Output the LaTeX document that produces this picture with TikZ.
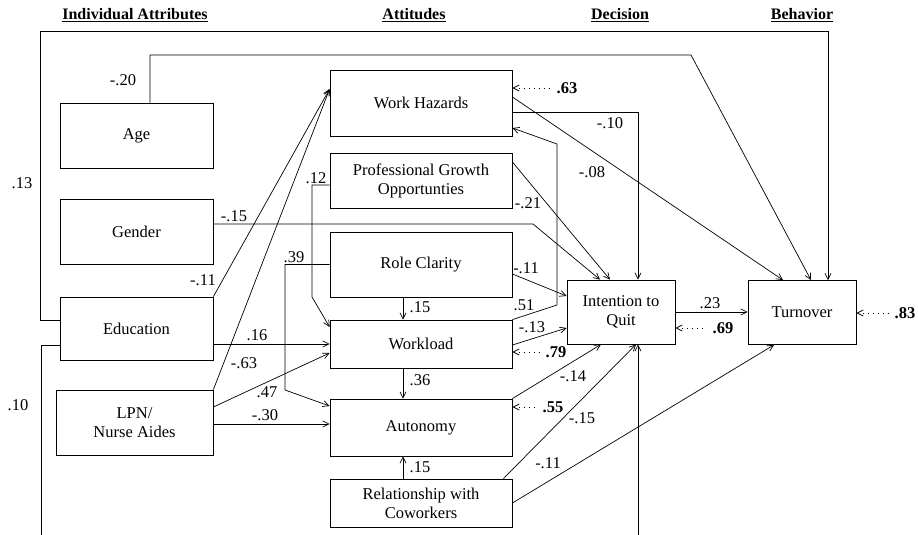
\documentclass[tikz,border=0pt]{standalone}
\usepackage{fontspec}
\setmainfont{Liberation Serif}
\usetikzlibrary{arrows.meta,positioning}
\begin{document}
\begin{tikzpicture}[x=1pt, y=-1pt,
        box/.style={draw, line width=0.8pt, inner sep=0pt, align=center, font=\fontsize{16.5}{19}\selectfont},
        lbox/.style={box, minimum width=153pt},
        mbox/.style={box, minimum width=182pt},
        rbox/.style={box, minimum width=108pt, minimum height=64pt},
        head/.style={font=\fontsize{16}{19}\selectfont\bfseries},
        coef/.style={font=\fontsize{16.5}{19}\selectfont, inner sep=1pt},
        resid/.style={font=\fontsize{16.5}{19}\selectfont\bfseries, inner sep=1pt},
        arrow/.style={-{Straight Barb[length=6pt,width=6pt]}, line width=0.7pt},
        err/.style={{Straight Barb[length=6pt,width=6pt]}-, dash pattern=on 1.2pt off 3.8pt, line width=0.8pt, shorten >=5pt}
    ]
    \useasboundingbox (0,0) rectangle (918,535);
    \clip (0,0) rectangle (918,535);
    % column headings
    \node[head] (hind) at (135,15) {\underline{Individual Attributes}};
    \node[head] (hatt) at (414,15) {\underline{Attitudes}};
    \node[head] (hdec) at (620,15) {\underline{Decision}};
    \node[head] (hbeh) at (802,15) {\underline{Behavior}};
    % boxes
    \node[lbox, minimum height=65pt] (age) at (136.5,135.5) {Age};
    \node[lbox, minimum height=65pt] (gender) at (136.5,231.5) {Gender};
    \node[lbox, minimum height=63pt] (edu) at (136.5,328.5) {Education};
    \node[lbox, minimum width=157pt, minimum height=65pt] (lpn) at (134.5,422.5) {LPN/\\Nurse Aides};
    \node[mbox, minimum height=66pt] (wh) at (421,103) {Work Hazards};
    \node[mbox, minimum height=55pt] (pgo) at (421,180.5) {Professional Growth\\Opportunties};
    \node[mbox, minimum height=65pt] (rc) at (421,264.5) {Role Clarity};
    \node[mbox, minimum height=48pt] (wl) at (421,344) {Workload};
    \node[mbox, minimum height=57pt] (aut) at (421,427.5) {Autonomy};
    \node[mbox, minimum height=48pt] (rel) at (421,503) {Relationship with\\Coworkers};
    \node[rbox] (itq) at (621,312) {Intention to\\Quit};
    \node[rbox] (turn) at (802,312.5) {Turnover};
    % paths
    \draw[arrow] (edu.west |- 0,320) -| (40,31) -| ([xshift=26pt]turn.north);
    \draw[arrow] (age.north -| 150,0) |- (691,55) -- ([xshift=9pt]turn.north);
    \draw[arrow] (wh.east |- 0,97) -- ([xshift=-19pt]turn.north);
    \draw[arrow] (wh.east |- 0,112) -| ([xshift=17pt]itq.north);
    \draw[arrow] (wl.north east) -- (557,305) -- (557,144) -- (wh.east |- 0,128);
    \draw[arrow] (pgo.east |- 0,162) -- ([xshift=-11pt]itq.north);
    \draw[arrow] (gender.east |- 0,224) -- (533,224) -- ([xshift=-21pt]itq.north);
    \draw[arrow] (rc.east |- 0,274) -- (itq.west |- 0,296);
    \draw[arrow] (wl.east |- 0,345) -- (itq.west |- 0,328);
    \draw[arrow] (aut.north east) -- ([xshift=-20pt]itq.south);
    \draw[arrow] ([xshift=-9pt]rel.north east) -- ([xshift=15pt]itq.south);
    \draw[arrow] (rel.east |- 0,503) -- ([xshift=-28pt]turn.south);
    \draw[arrow] (edu.west |- 0,345) -| (41,560) -| ([xshift=17pt]itq.south);
    \draw[arrow] (itq.east) -- (turn.west |- itq.east);
    \draw[arrow] (edu.north east) -- (wh.west |- 0,89);
    \draw[arrow] (lpn.north east) -- (wh.west |- 0,89);
    \draw[arrow] (pgo.west |- 0,185) -- (312,185) -- (312,297) -- (wl.west |- 0,327);
    \draw[arrow] (rc.west) -- (285,264.5) -- (285,390) -- (aut.west |- 0,406);
    \draw[arrow] (edu.east |- 0,344) -- (wl.west);
    \draw[arrow] (lpn.east |- 0,407) -- (wl.west |- 0,353);
    \draw[arrow] (lpn.east |- 0,424) -- (aut.west |- 0,424);
    \draw[arrow] ([xshift=-18pt]rc.south) -- ([xshift=-18pt]wl.north);
    \draw[arrow] ([xshift=-18pt]wl.south) -- ([xshift=-18pt]aut.north);
    \draw[arrow] ([xshift=-18pt]rel.north) -- ([xshift=-18pt]aut.south);
    % coefficients
    \node[coef] (c13) at (22,183) {.13};
    \node[coef] (c20) at (123,80) {-.20};
    \node[coef] (c10) at (18,405) {.10};
    \node[coef] (cgen) at (234,216) {-.15};
    \node[coef] (cedu) at (203,280) {-.11};
    \node[coef] (c16) at (257,335) {.16};
    \node[coef] (c63) at (244,363) {-.63};
    \node[coef] (c47) at (267,392) {.47};
    \node[coef] (c30) at (265,415) {-.30};
    \node[coef] (c39) at (294,257) {.39};
    \node[coef] (c12) at (316,178) {.12};
    \node[coef] (crcwl) at (420,307) {.15};
    \node[coef] (c36) at (420,380) {.36};
    \node[coef] (crelaut) at (420,467) {.15};
    \node[coef] (c51) at (524,305) {.51};
    \node[coef] (cwl) at (532,327) {-.13};
    \node[coef] (crc) at (526,268) {-.11};
    \node[coef] (c21) at (528,203) {-.21};
    \node[coef] (cwhq) at (610,123) {-.10};
    \node[coef] (cwht) at (592,172) {-.08};
    \node[coef] (c23) at (710,303) {.23};
    \node[coef] (c14) at (573,376) {-.14};
    \node[coef] (crelq) at (582,418) {-.15};
    \node[coef] (crelt) at (548,463) {-.11};
    % residuals
    \node[resid] (e63) at (567,88) {.63};
    \node[resid] (e79) at (556,352) {.79};
    \node[resid] (e55) at (553,407) {.55};
    \node[resid] (e69) at (723,328) {.69};
    \node[resid] (e83) at (905,313) {.83};
    \draw[err] (wh.east |- e63) -- (e63.west);
    \draw[err] (wl.east |- e79) -- (e79.west);
    \draw[err] (aut.east |- e55) -- (e55.west);
    \draw[err] (itq.east |- e69) -- (e69.west);
    \draw[err] (turn.east |- e83) -- (e83.west);
\end{tikzpicture}
\end{document}
